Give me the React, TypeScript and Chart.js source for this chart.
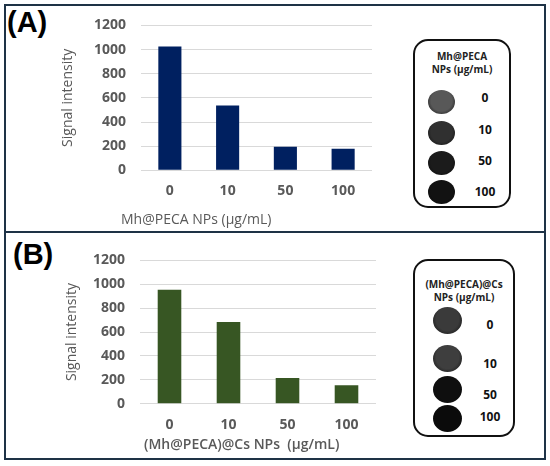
import { useEffect, useRef } from "react";
import { Chart, registerables } from "chart.js";

Chart.register(...registerables);

// ── Data ──────────────────────────────────────────────────────────────────────
const concentrations = ["0", "10", "50", "100"];
const signalA = [1025, 537, 195, 178];
const signalB = [955, 685, 216, 155];
const yMax = 1200;
const yStep = 200;

const FONT = "'Open Sans', 'Liberation Sans', sans-serif";
const GREY = "#595959";
const FRAME = "#1e3246";

// phantom spot shades (top → bottom)
const spotsA = ["#585858", "#303030", "#1b1b1b", "#121212"];
const spotsB = ["#3a3a3a", "#3e3e3e", "#0f0f0f", "#0b0b0b"];

interface PanelProps {
  values: number[];
  color: string;
  left: number;
  top: number;
  width: number;
  height: number;
  pad: { top: number; right: number; bottom: number };
  yWidth: number;
  titlePad: number;
}

function BarPanel({ values, color, left, top, width, height, pad, yWidth, titlePad }: PanelProps) {
  const canvasRef = useRef<HTMLCanvasElement>(null);

  useEffect(() => {
    const canvas = canvasRef.current;
    if (!canvas) return;
    const chart = new Chart(canvas, {
      type: "bar",
      data: {
        labels: concentrations,
        datasets: [{
          data: values,
          backgroundColor: color,
          borderWidth: 0,
          barPercentage: 0.4,
          categoryPercentage: 1,
        }],
      },
      options: {
        responsive: false,
        animation: false,
        layout: { padding: { left: 0, top: pad.top, right: pad.right, bottom: pad.bottom } },
        plugins: { legend: { display: false }, tooltip: { enabled: false } },
        scales: {
          x: {
            grid: { display: false, drawTicks: false },
            border: { display: false },
            ticks: { color: GREY, padding: 12.5, font: { family: FONT, size: 14, weight: "bold" } },
          },
          y: {
            min: 0,
            max: yMax,
            afterFit: (s: any) => { s.width = yWidth; },
            grid: { color: "#d9d9d9", lineWidth: 1, drawTicks: false },
            border: { display: false },
            ticks: {
              stepSize: yStep,
              color: GREY,
              padding: 15,
              font: { family: FONT, size: 14, weight: "bold" },
              callback: (v: any) => String(v),
            },
            title: {
              display: true,
              text: "Signal intensity",
              color: GREY,
              padding: { top: titlePad, bottom: 0 },
              font: { family: FONT, size: 14 },
            },
          },
        },
      },
    });
    return () => chart.destroy();
  }, []); // eslint-disable-line react-hooks/exhaustive-deps

  return (
    <canvas
      ref={canvasRef}
      width={width}
      height={height}
      style={{ position: "absolute", left, top, width, height }}
    />
  );
}

function Spots({ left, top, width, height, title, titleTop, shades, w, h, circleX, circleY, labelX, labelY }: {
  left: number; top: number; width: number; height: number; title: string[]; titleTop: number; shades: string[];
  w: number; h: number; circleX: number; circleY: number[]; labelX: number; labelY: number[];
}) {
  return (
    <div style={{
      position: "absolute", left, top, width, height, boxSizing: "border-box",
      border: "2px solid #111", borderRadius: 15, background: "#fff",
    }}>
      {title.map((t, i) => (
        <div key={t} style={{
          position: "absolute", left: 0, width: width - 4, top: titleTop + i * 12.5, textAlign: "center",
          fontFamily: FONT, fontWeight: "bold", fontSize: 10, lineHeight: "13px", color: "#222",
        }}>{t}</div>
      ))}
      {shades.map((c, i) => (
        <div key={i} style={{
          position: "absolute", left: circleX - w / 2 - 2, top: circleY[i] - h / 2 - 2,
          width: w, height: h, borderRadius: "50%",
          background: `radial-gradient(ellipse at 50% 45%, ${c} 0%, ${c} 55%, #0a0a0a 100%)`,
        }} />
      ))}
      {concentrations.map((c, i) => (
        <div key={c} style={{
          position: "absolute", left: labelX - 20 - 2, width: 40, top: labelY[i] - 8 - 2, textAlign: "center",
          fontFamily: FONT, fontWeight: "bold", fontSize: 12, lineHeight: "16px", color: "#111",
        }}>{c}</div>
      ))}
    </div>
  );
}

export default function App() {
  const text = (s: string, left: number, top: number, size: number, weight: any, color = GREY, family = FONT) => (
    <div style={{
      position: "absolute", left, top, fontFamily: family, fontSize: size, fontWeight: weight,
      lineHeight: `${size + 2}px`, color, whiteSpace: "pre",
    }}>{s}</div>
  );

  return (
    <div style={{ position: "absolute", left: 0, top: 0, width: 550, height: 466, background: "#fff", overflow: "hidden" }}>
      {/* outer frame and divider */}
      <div style={{ position: "absolute", left: 4, top: 4, width: 542, height: 456, boxSizing: "border-box", border: `2px solid ${FRAME}` }} />
      <div style={{ position: "absolute", left: 4, top: 231, width: 542, height: 2, background: FRAME }} />

      {text("(A)", 7, 7, 29, "bold", "#000", "'Liberation Sans', Arial, sans-serif")}
      {text("(B)", 13, 239, 29, "bold", "#000", "'Liberation Sans', Arial, sans-serif")}

      {/* y tick padding (15) + half label height reserves ~23.4px above the plot area */}
      <BarPanel values={signalA} color="#002060" left={40} top={2} width={340} height={220}
        pad={{ top: 0, right: 8, bottom: 9.9 }} yWidth={101} titlePad={19.6} />
      <BarPanel values={signalB} color="#375623" left={40} top={237} width={346} height={225}
        pad={{ top: 0, right: 10, bottom: 16.5 }} yWidth={100} titlePad={23.6} />

      {text("Mh@PECA NPs (μg/mL)", 121, 211, 14, "normal")}
      {text("(Mh@PECA)@Cs NPs  (μg/mL)", 144, 436, 14, 600)}

      <Spots left={413} top={39} width={98} height={169} title={["Mh@PECA", "NPs (μg/mL)"]} titleTop={9}
        shades={spotsA} w={27} h={24} circleX={28.7} circleY={[62.5, 94, 124, 153]}
        labelX={72} labelY={[59, 91, 122, 153]} />
      <Spots left={413} top={259} width={102} height={178} title={["(Mh@PECA)@Cs", "NPs (μg/mL)"]} titleTop={17}
        shades={spotsB} w={29} h={27} circleX={34.5} circleY={[61, 99, 130, 159]}
        labelX={77} labelY={[66, 105, 136, 158]} />
    </div>
  );
}
